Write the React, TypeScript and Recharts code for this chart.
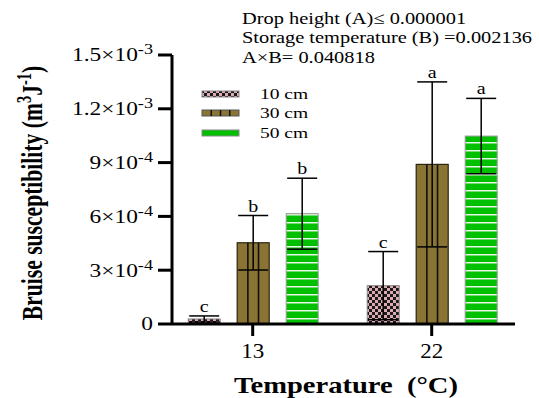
import React from 'react';
import { BarChart, Bar, XAxis, YAxis, ErrorBar, LabelList, Legend } from 'recharts';

const SERIF = '"Liberation Serif", "Times New Roman", serif';

const temps = ['13', '22'];
const names = ['10 cm', '30 cm', '50 cm'];
const mean10 = [2.8e-5, 2.14e-4];
const err10 = [1.7e-5, 1.9e-4];
const mean30 = [4.53e-4, 8.9e-4];
const err30 = [1.52e-4, 4.6e-4];
const mean50 = [6.15e-4, 1.048e-3];
const err50 = [1.98e-4, 2.1e-4];
const sig10 = ['c', 'c'];
const sig30 = ['b', 'a'];
const sig50 = ['b', 'a'];

const yTicks = [0, 3e-4, 6e-4, 9e-4, 1.2e-3, 1.5e-3];
const yTickMant = ['0', '3', '6', '9', '1.2', '1.5'];
const yTickExp = ['', '-4', '-4', '-4', '-3', '-3'];

const statLines = [
  'Drop height (A)\u2264 0.000001',
  'Storage temperature (B) =0.002136',
  'A\u00d7B= 0.040818',
];

const data = temps.map((t, i) => ({
  temp: t,
  m10: mean10[i], e10: err10[i],
  m30: mean30[i], e30: err30[i],
  m50: mean50[i], e50: err50[i],
}));

const OLIVE = '#8a7434';
const GREEN = '#00c000';

const CheckerBar = (p: any) => (
  <rect x={p.x} y={p.y} width={p.width} height={p.height} fill="url(#chk)" stroke="#888" strokeWidth={1} />
);

const OliveBar = (p: any) => {
  const { x, y, width, height } = p;
  return (
    <g>
      <rect x={x} y={y} width={width} height={height} fill={OLIVE} stroke="#2a2410" strokeWidth={1.2} />
      {[1 / 3, 2 / 3].map((f) => (
        <line key={f} x1={x + width * f} x2={x + width * f} y1={y} y2={y + height} stroke="#111" strokeWidth={1.6} />
      ))}
    </g>
  );
};

const GreenBar = (p: any) => (
  <rect x={p.x} y={p.y} width={p.width} height={p.height} fill="url(#hstripe)" stroke="#999" strokeWidth={1} />
);

// significance letter sits just above the upper error cap
const sigLabel = (errs: number[], letters: string[]) => (p: any) => {
  const { x, y, width, height, value, index } = p;
  if (value == null || !height) return null;
  const top = y - (errs[index] * height) / value;
  return (
    <text
      transform={`translate(${x + width / 2},${top - 4}) scale(1.25,1)`}
      textAnchor="middle"
      fontSize={16}
      fontFamily={SERIF}
      fill="#000"
    >
      {letters[index]}
    </text>
  );
};

const YTick = (p: any) => {
  const { x, y, index } = p;
  const exp = yTickExp[index];
  return (
    <text transform={`translate(${x},${y}) scale(1.3,1)`} textAnchor="end" fontSize={18} fontFamily={SERIF} fill="#000" dy="0.35em">
      {yTickMant[index]}
      {exp ? '\u00d710' : ''}
      {exp ? <tspan dy={-7} fontSize={14}>{exp}</tspan> : null}
    </text>
  );
};

const XTick = (p: any) => {
  const { x, y, payload } = p;
  return (
    <text transform={`translate(${x},${y}) scale(1.15,1)`} textAnchor="middle" fontSize={20} fontFamily={SERIF} fill="#000" dy={22}>
      {payload.value}
    </text>
  );
};

const LegendContent = (props: any) => {
  const payload = props.payload || [];
  const rows = [10, 29, 49];
  return (
    <svg width={140} height={60}>
      {payload.map((e: any, i: number) => {
        const cy = rows[i];
        const sw =
          i === 0 ? (
            <rect x={7} y={cy - 3} width={37} height={6} fill="url(#chk)" stroke="#888" strokeWidth={1} />
          ) : i === 1 ? (
            <g>
              <rect x={7} y={cy - 3} width={37} height={6} fill={OLIVE} stroke="#555" strokeWidth={1} />
              {[0.25, 0.5, 0.75].map((f) => (
                <line key={f} x1={7 + 37 * f} x2={7 + 37 * f} y1={cy - 3} y2={cy + 3} stroke="#111" strokeWidth={1.5} />
              ))}
            </g>
          ) : (
            <rect x={7} y={cy - 3} width={37} height={6} fill={GREEN} stroke="#888" strokeWidth={1} />
          );
        return (
          <g key={i}>
            {sw}
            <text transform={`translate(65,${cy + 5.3}) scale(1.3,1)`} fontSize={15} fontFamily={SERIF} fill="#000">
              {e.value}
            </text>
          </g>
        );
      })}
    </svg>
  );
};

export default function App() {
  return (
    <div style={{ position: 'absolute', left: 0, top: 0, width: 539, height: 398, background: '#fff' }}>
      <svg width={0} height={0} style={{ position: 'absolute' }}>
        <defs>
          <pattern id="chk" width={6} height={6} patternUnits="userSpaceOnUse">
            <rect width={6} height={6} fill="#dcaab2" />
            <rect x={0} y={0} width={3} height={3} fill="#1a1a1a" />
            <rect x={3} y={3} width={3} height={3} fill="#1a1a1a" />
          </pattern>
          <pattern id="hstripe" width={8} height={8} patternUnits="userSpaceOnUse">
            <rect width={8} height={8} fill={GREEN} />
            <rect x={0} y={6} width={8} height={1.5} fill="#e8f5e8" />
          </pattern>
        </defs>
      </svg>
      <div style={{ position: 'absolute', left: 0, top: 0 }}>
        <BarChart
          width={539}
          height={398}
          data={data}
          margin={{ top: 55, right: 24, bottom: 34, left: 0 }}
          barSize={32}
          barGap={17}
        >
          <XAxis
            dataKey="temp"
            height={40}
            padding={{ left: -8.8, right: -6.2 }}
            axisLine={{ stroke: '#000', strokeWidth: 3 }}
            tickLine={{ stroke: '#000', strokeWidth: 3 }}
            tickSize={12}
            tickMargin={0}
            interval={0}
            tick={<XTick />}
          />
          <YAxis
            width={172}
            domain={[0, 0.0015]}
            ticks={yTicks}
            interval={0}
            tickSize={14}
            tickMargin={5}
            axisLine={{ stroke: '#000', strokeWidth: 3 }}
            tickLine={{ stroke: '#000', strokeWidth: 3 }}
            tick={<YTick />}
          />
          <Legend
            layout="vertical"
            align="center"
            verticalAlign="middle"
            wrapperStyle={{ position: 'absolute', left: 195, top: 84, width: 140, height: 60 }}
            content={<LegendContent />}
          />
          <Bar dataKey="m10" name={names[0]} fill="url(#chk)" shape={CheckerBar} isAnimationActive={false}>
            <ErrorBar dataKey="e10" width={15} stroke="#000" strokeWidth={1.5} isAnimationActive={false} />
            <LabelList dataKey="m10" content={sigLabel(err10, sig10)} />
          </Bar>
          <Bar dataKey="m30" name={names[1]} fill={OLIVE} shape={OliveBar} isAnimationActive={false}>
            <ErrorBar dataKey="e30" width={15} stroke="#000" strokeWidth={1.5} isAnimationActive={false} />
            <LabelList dataKey="m30" content={sigLabel(err30, sig30)} />
          </Bar>
          <Bar dataKey="m50" name={names[2]} fill={GREEN} shape={GreenBar} isAnimationActive={false}>
            <ErrorBar dataKey="e50" width={15} stroke="#000" strokeWidth={1.5} isAnimationActive={false} />
            <LabelList dataKey="m50" content={sigLabel(err50, sig50)} />
          </Bar>
        </BarChart>
      </div>
      <svg width={539} height={398} style={{ position: 'absolute', left: 0, top: 0, pointerEvents: 'none' }}>
        {statLines.map((s, i) => (
          <text
            key={i}
            transform={`translate(242,${23.5 + i * 19.8}) scale(1.2,1)`}
            fontSize={17}
            fontFamily={SERIF}
            fill="#000"
          >
            {s}
          </text>
        ))}
        <text
          transform="translate(42,193) scale(1.38,1) rotate(-90)"
          textAnchor="middle"
          fontSize={21.6}
          fontWeight="bold"
          fontFamily={SERIF}
          fill="#000"
        >
          Bruise susceptibility (m
          <tspan dy={-8} fontSize={14.5}>3</tspan>
          <tspan dy={8}>J</tspan>
          <tspan dy={-8} fontSize={14.5}>-1</tspan>
          <tspan dy={8}>)</tspan>
        </text>
        <text
          transform="translate(346,393) scale(1.19,1)"
          textAnchor="middle"
          fontSize={24}
          fontWeight="bold"
          fontFamily={SERIF}
          fill="#000"
          style={{ whiteSpace: 'pre' }}
        >
          {'Temperature  (\u00b0C)'}
        </text>
      </svg>
    </div>
  );
}
